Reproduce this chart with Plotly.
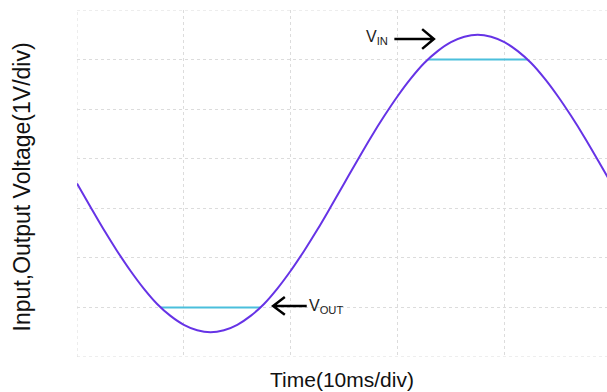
import plotly.graph_objects as go

# Input sine wave, sampled every 1.25 ms (time in ms, voltage in V)
time_ms = [0.0, 1.25, 2.5, 3.75, 5.0, 6.25, 7.5, 8.75, 10.0, 11.25,
           12.5, 13.75, 15.0, 16.25, 17.5, 18.75, 20.0, 21.25, 22.5, 23.75,
           25.0, 26.25, 27.5, 28.75, 30.0, 31.25, 32.5, 33.75, 35.0, 36.25,
           37.5, 38.75, 40.0, 41.25, 42.5, 43.75, 45.0, 46.25, 47.5, 48.75, 50.0]
v_in = [0.0, -0.47, -0.93, -1.36, -1.76, -2.12, -2.43, -2.67, -2.85, -2.96,
        -3.0, -2.96, -2.85, -2.67, -2.43, -2.12, -1.76, -1.36, -0.93, -0.47,
        0.0, 0.47, 0.93, 1.36, 1.76, 2.12, 2.43, 2.67, 2.85, 2.96,
        3.0, 2.96, 2.85, 2.67, 2.43, 2.12, 1.76, 1.36, 0.93, 0.47, 0.0]

# Output is clipped at the rails; flat segments where it departs from the input
clip_t = [7.84, 17.16, None, 32.84, 42.16]
clip_v = [-2.5, -2.5, None, 2.5, 2.5]

x_range = [0, 49.6]
y_range = [-3.5, 3.5]
x_ticks = [0, 10, 20, 30, 40]
y_ticks = [-3.5, -2.5, -1.5, -0.5, 0.5, 1.5, 2.5, 3.5]

FONT = "Liberation Sans, Arial, sans-serif"
PURPLE = "#6633e6"
CYAN = "#4bbfdc"
GRID = "#dcdcdc"

fig = go.Figure()
fig.add_trace(go.Scatter(x=clip_t, y=clip_v, mode="lines",
                         line=dict(color=CYAN, width=2), hoverinfo="skip"))
fig.add_trace(go.Scatter(x=time_ms, y=v_in, mode="lines",
                         line=dict(color=PURPLE, width=2, shape="spline"),
                         hoverinfo="skip"))

# Border grid lines along the top, bottom and left edges of the plot area
for y in (y_range[0], y_range[1]):
    fig.add_shape(type="line", xref="paper", yref="y", x0=0, x1=1, y0=y, y1=y,
                  line=dict(color=GRID, width=1, dash="dot"), layer="below")
fig.add_shape(type="line", xref="x", yref="paper", x0=0, x1=0, y0=0, y1=1,
              line=dict(color=GRID, width=1, dash="dot"), layer="below")


def arrow_path(x0, x1, y, dx, dy):
    """Open-chevron arrow from x0 to tip x1 at height y."""
    back = x1 - dx if x1 > x0 else x1 + dx
    return (f"M {x0},{y} L {x1},{y} "
            f"M {back},{y + dy} L {x1},{y} L {back},{y - dy}")


fig.add_shape(type="path", xref="x", yref="y",
              path=arrow_path(29.7, 33.4, 2.915, 1.1, 0.2),
              line=dict(color="black", width=2.5))
fig.add_shape(type="path", xref="x", yref="y",
              path=arrow_path(21.5, 18.35, -2.47, 1.1, 0.18),
              line=dict(color="black", width=2.5))

fig.add_annotation(x=29.3, y=2.95, xref="x", yref="y", text="V<sub>IN</sub>",
                   showarrow=False, xanchor="right", yanchor="middle",
                   font=dict(family=FONT, size=16, color="#222"))
fig.add_annotation(x=21.55, y=-2.49, xref="x", yref="y", text="V<sub>OUT</sub>",
                   showarrow=False, xanchor="left", yanchor="middle",
                   font=dict(family=FONT, size=16, color="#222"))

# Axis titles
fig.add_annotation(x=0.5, y=-0.066, xref="paper", yref="paper", text="Time(10ms/div)",
                   showarrow=False, xanchor="center", yanchor="middle",
                   font=dict(family=FONT, size=21, color="#111"))
fig.add_annotation(x=-0.103, y=0.49, xref="paper", yref="paper",
                   text="Input,Output Voltage(1V/div)", textangle=-90,
                   showarrow=False, xanchor="center", yanchor="middle",
                   font=dict(family=FONT, size=23, color="#111"))

grid = dict(showgrid=True, gridcolor=GRID, gridwidth=1, griddash="dot",
            zeroline=False, showline=False, showticklabels=False, ticks="")
fig.update_xaxes(range=x_range, tickvals=x_ticks, **grid)
fig.update_yaxes(range=y_range, tickvals=y_ticks, **grid)

fig.update_layout(width=607, height=392, showlegend=False,
                  margin=dict(l=77, r=0, t=10, b=35),
                  plot_bgcolor="white", paper_bgcolor="white")

fig.write_html("out.html")
